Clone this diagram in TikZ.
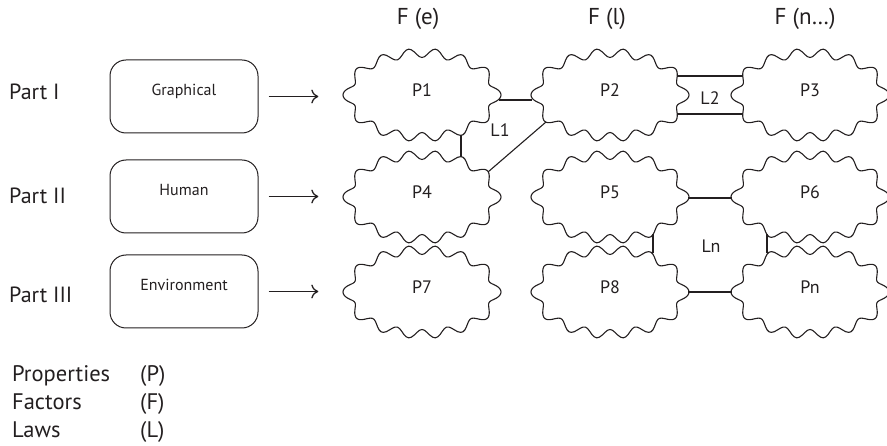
\documentclass[tikz,border=0pt]{standalone}
\usepackage{fontspec}
\setmainfont{PT Sans}
\usetikzlibrary{calc,shapes.geometric,arrows.meta}

\definecolor{ink}{HTML}{231F20}

\tikzset{
  partlabel/.style={anchor=base west, inner sep=0pt, text=ink, font=\fontsize{22}{26}\selectfont},
  header/.style={anchor=base, inner sep=0pt, text=ink, font=\fontsize{23}{27}\selectfont},
  legend/.style={anchor=base west, inner sep=0pt, text=ink, font=\fontsize{22.5}{27}\selectfont},
  partbox/.style={draw=ink, text=ink, line width=1pt, rounded corners=16pt,
    minimum width=148pt, minimum height=73pt, inner sep=0pt,
    text height=11pt, text depth=12pt, font=\fontsize{16}{18}\selectfont},
  prop/.style={ellipse, inner sep=0pt, minimum width=149pt, minimum height=84pt,
    text=ink, text height=13pt, text depth=9.6pt, font=\fontsize{18}{20}\selectfont},
  cloudline/.style={draw=ink, line width=1.1pt, line join=round},
  link/.style={draw=ink, line width=1.1pt},
  boldlink/.style={draw=ink, line width=1.7pt},
  lawlabel/.style={text=ink, inner sep=0pt, font=\fontsize{18}{20}\selectfont},
  feed/.style={draw=ink, line width=1.3pt, -{To[length=7pt, width=14pt]},
    shorten <=10pt, shorten >=29pt},
}

% wavy property outline: an ellipse (semi-axes 74.5 x 42) with a sine
% wave of 14 periods, spaced roughly evenly along the arc
\newcommand{\wavecloud}[3]{%
  \node[prop] (#1) at (#2) {#3};
  \draw[cloudline, shift={(#1.center)}]
    plot[smooth cycle, domain=0:358, samples=180]
    ({74.5*cos(\x) + 4.5*cos(14*(\x - 8.2*sin(2*\x)))*42*cos(\x)/sqrt((42*cos(\x))^2 + (74.5*sin(\x))^2)},
     {42*sin(\x) + 4.5*cos(14*(\x - 8.2*sin(2*\x)))*74.5*sin(\x)/sqrt((42*cos(\x))^2 + (74.5*sin(\x))^2)});
}

\begin{document}
\begin{tikzpicture}[x=1pt, y=-1pt]
  \useasboundingbox (0,0) rectangle (887,446);

  % column headers
  \node[header] (fe) at (418,25) {F (e)};
  \node[header] (fl) at (607,25) {F (l)};
  \node[header] (fn) at (805,25) {F (n…)};

  % parts
  \node[partlabel] (part1) at (9,100) {Part I};
  \node[partlabel] (part2) at (9,204) {Part II};
  \node[partlabel] (part3) at (9,303) {Part III};

  \node[partbox] (graph) at (184,96.5) {Graphical};
  \node[partbox] (human) at (184,196.5) {Human};
  \node[partbox] (env)   at (184,291.5) {Environment};

  % properties
  \wavecloud{P1}{422,95}{P1}
  \wavecloud{P2}{610,95}{P2}
  \wavecloud{P3}{810,95}{P3}
  \wavecloud{P4}{422,197}{P4}
  \wavecloud{P5}{610,197}{P5}
  \wavecloud{P6}{810,197}{P6}
  \wavecloud{P7}{422,292}{P7}
  \wavecloud{P8}{610,292}{P8}
  \wavecloud{Pn}{810,292}{Pn}

  % parts feed the first column
  \draw[feed] (graph.east) -- (graph.east -| P1.west);
  \draw[feed] (human.east) -- (human.east -| P4.west);
  \draw[feed] (env.east)   -- (env.east -| P7.west);

  % law L1
  \draw[boldlink] ($(P1.center)+(77,5)$) -- ($(P2.center)+(-78,5)$);
  \draw[link] ($(P1.center)+(39,40)$) -- ($(P4.center)+(39,-40)$);
  \draw[link] ($(P4.center)+(66,-25)$) -- ($(P2.center)+(-64,27)$);
  \node[lawlabel] (L1) at (500,130) {L1};

  % law L2
  \draw[boldlink] ($(P2.center)+(67,-19)$) -- ($(P3.center)+(-67,-19)$);
  \draw[link] ($(P2.center)+(67,19)$) -- ($(P3.center)+(-67,19)$);
  \node[lawlabel] (L2) at (710,98) {L2};

  % law Ln
  \draw[boldlink] ($(P5.center)+(78,1)$) -- ($(P6.center)+(-78,1)$);
  \draw[link] ($(P8.center)+(78,0)$) -- ($(Pn.center)+(-78,0)$);
  \draw[boldlink] ($(P5.center)+(43,37)$) -- ($(P8.center)+(43,-39)$);
  \draw[boldlink] ($(P6.center)+(-43,37)$) -- ($(Pn.center)+(-43,-39)$);
  \node[lawlabel] (Ln) at (711,246) {Ln};

  % legend
  \node[legend] (kP) at (12,382) {Properties};
  \node[legend] (kF) at (12,410) {Factors};
  \node[legend] (kL) at (12,438) {Laws};
  \node[legend] (vP) at (140,382) {(P)};
  \node[legend] (vF) at (140,410) {(F)};
  \node[legend] (vL) at (140,438) {(L)};
\end{tikzpicture}
\end{document}
